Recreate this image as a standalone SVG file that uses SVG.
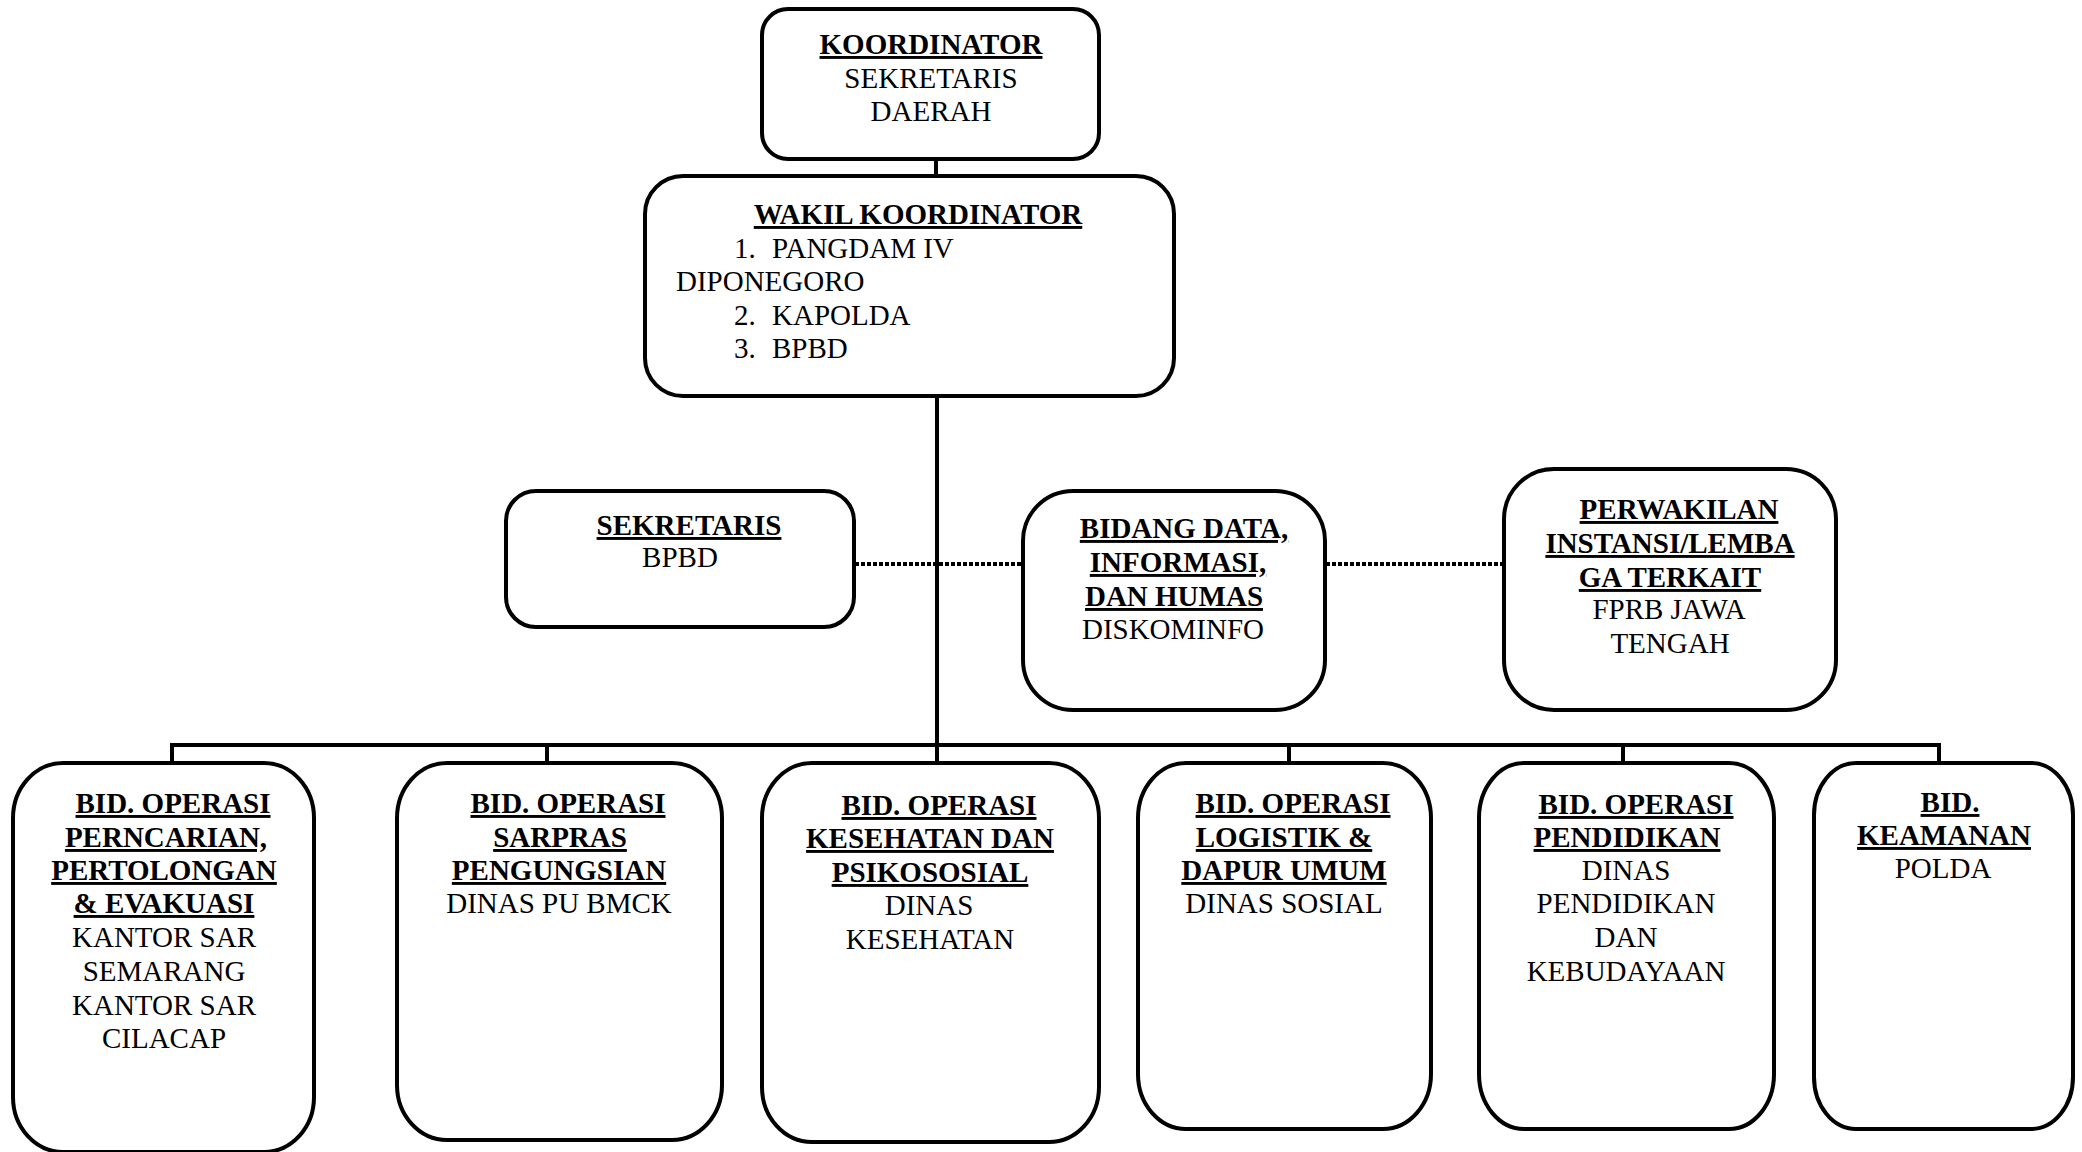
<svg xmlns="http://www.w3.org/2000/svg" width="2082" height="1152" viewBox="0 0 2082 1152">
<style>
.box{fill:#fff;stroke:#000;stroke-width:4}
.ln{fill:none;stroke:#000;stroke-width:4}
.dot{fill:none;stroke:#000;stroke-width:4;stroke-dasharray:4 2}
text{font-family:"Liberation Serif","Times New Roman",serif;font-size:29px;fill:#000;text-anchor:middle}
.h{font-weight:bold;text-decoration:underline}
.s{text-anchor:start}
</style>
<rect width="2082" height="1152" fill="#fff"/>
<g id="connectors">
<line class="ln" x1="936" y1="159" x2="936" y2="176"/>
<line class="ln" x1="937" y1="394" x2="937" y2="763"/>
<line class="dot" x1="855" y1="564" x2="1022" y2="564"/>
<line class="dot" x1="1326" y1="564" x2="1503" y2="564"/>
<polyline class="ln" points="172,763 172,745 1939,745 1939,763"/>
<line class="ln" x1="547" y1="745" x2="547" y2="763"/>
<line class="ln" x1="1289" y1="745" x2="1289" y2="763"/>
<line class="ln" x1="1623" y1="745" x2="1623" y2="763"/>
</g>
<g id="koordinator">
<rect class="box" x="762" y="9" width="337" height="150" rx="26"/>
<text class="h" x="931" y="54">KOORDINATOR</text>
<text x="931" y="88">SEKRETARIS</text>
<text x="931" y="121">DAERAH</text>
</g>
<g id="wakil">
<rect class="box" x="645" y="176" width="529" height="220" rx="38"/>
<text class="h" x="918" y="224">WAKIL KOORDINATOR</text>
<text class="s" x="734" y="258">1.<tspan x="772">PANGDAM IV</tspan></text>
<text class="s" x="676" y="291">DIPONEGORO</text>
<text class="s" x="734" y="325">2.<tspan x="772">KAPOLDA</tspan></text>
<text class="s" x="734" y="358">3.<tspan x="772">BPBD</tspan></text>
</g>
<g id="sekretaris">
<rect class="box" x="506" y="491" width="348" height="136" rx="30"/>
<text class="h" x="689" y="535">SEKRETARIS</text>
<text x="680" y="567">BPBD</text>
</g>
<g id="bidang-data">
<rect class="box" x="1023" y="491" width="302" height="219" rx="50"/>
<text class="h" x="1184" y="538">BIDANG DATA,</text>
<text class="h" x="1178" y="572">INFORMASI,</text>
<text class="h" x="1174" y="606">DAN HUMAS</text>
<text x="1173" y="639">DISKOMINFO</text>
</g>
<g id="perwakilan">
<rect class="box" x="1504" y="469" width="332" height="241" rx="50"/>
<text class="h" x="1679" y="519">PERWAKILAN</text>
<text class="h" x="1670" y="553">INSTANSI/LEMBA</text>
<text class="h" x="1670" y="587">GA TERKAIT</text>
<text x="1669" y="619">FPRB JAWA</text>
<text x="1670" y="653">TENGAH</text>
</g>
<g id="bid-sar">
<rect class="box" x="13" y="763" width="301" height="389" rx="50" ry="55"/>
<text class="h" x="173" y="813">BID. OPERASI</text>
<text class="h" x="166" y="847">PERNCARIAN,</text>
<text class="h" x="164" y="880">PERTOLONGAN</text>
<text class="h" x="164" y="913">&amp; EVAKUASI</text>
<text x="164" y="947">KANTOR SAR</text>
<text x="164" y="981">SEMARANG</text>
<text x="164" y="1015">KANTOR SAR</text>
<text x="164" y="1048">CILACAP</text>
</g>
<g id="bid-sarpras">
<rect class="box" x="397" y="763" width="325" height="377" rx="50" ry="55"/>
<text class="h" x="568" y="813">BID. OPERASI</text>
<text class="h" x="560" y="847">SARPRAS</text>
<text class="h" x="559" y="880">PENGUNGSIAN</text>
<text x="559" y="913">DINAS PU BMCK</text>
</g>
<g id="bid-kesehatan">
<rect class="box" x="762" y="763" width="337" height="379" rx="50" ry="55"/>
<text class="h" x="939" y="815">BID. OPERASI</text>
<text class="h" x="930" y="848">KESEHATAN DAN</text>
<text class="h" x="930" y="882">PSIKOSOSIAL</text>
<text x="929" y="915">DINAS</text>
<text x="930" y="949">KESEHATAN</text>
</g>
<g id="bid-logistik">
<rect class="box" x="1138" y="763" width="293" height="366" rx="48" ry="55"/>
<text class="h" x="1293" y="813">BID. OPERASI</text>
<text class="h" x="1284" y="847">LOGISTIK &amp;</text>
<text class="h" x="1284" y="880">DAPUR UMUM</text>
<text x="1284" y="913">DINAS SOSIAL</text>
</g>
<g id="bid-pendidikan">
<rect class="box" x="1479" y="763" width="295" height="366" rx="45" ry="55"/>
<text class="h" x="1636" y="814">BID. OPERASI</text>
<text class="h" x="1627" y="847">PENDIDIKAN</text>
<text x="1626" y="880">DINAS</text>
<text x="1626" y="913">PENDIDIKAN</text>
<text x="1626" y="947">DAN</text>
<text x="1626" y="981">KEBUDAYAAN</text>
</g>
<g id="bid-keamanan">
<rect class="box" x="1814" y="763" width="259" height="366" rx="42" ry="52"/>
<text class="h" x="1950" y="812">BID.</text>
<text class="h" x="1944" y="845">KEAMANAN</text>
<text x="1943" y="878">POLDA</text>
</g>
</svg>
